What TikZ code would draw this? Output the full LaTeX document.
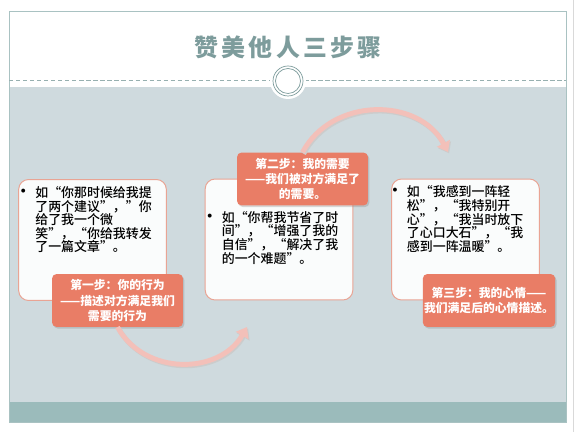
\documentclass[tikz,border=0pt]{standalone}
\usepackage{fontspec}
\usepackage{xcolor}
\usepackage{tikz}
\usetikzlibrary{arrows.meta,positioning,shadows}
\newfontfamily\cjk{Noto Sans CJK SC}
\newfontfamily\cjkmid{Noto Sans CJK SC Medium}
\newfontfamily\cjktitle[LetterSpace=14]{Noto Sans CJK SC}
\definecolor{bandgray}{HTML}{CFDADE}
\definecolor{bandteal}{HTML}{9BBBBB}
\definecolor{framecol}{HTML}{A9C2C2}
\definecolor{titlecol}{HTML}{7D9C9C}
\definecolor{stepred}{HTML}{E97D66}
\definecolor{boxline}{HTML}{E9A494}
\definecolor{boxfill}{HTML}{FAFCFC}
\definecolor{arrowpink}{HTML}{F3C0B9}
\newcommand{\dotmark}{\llap{{\fontsize{12}{12}\selectfont •}\hspace{2.5pt}}}

\begin{document}
\begin{tikzpicture}[
    x=0.025cm, y=0.025cm,
    every node/.style={font=\cjk, inner sep=0pt},
    notebox/.style={rectangle, rounded corners=7pt, draw=boxline, line width=0.7pt, fill=boxfill, minimum width=105pt, minimum height=86pt},
    notetext/.style={align=left, font=\cjkmid\fontsize{9.2}{9.7}\selectfont},
    stepbox/.style={rectangle, rounded corners=3pt, fill=stepred, text=white, align=center, minimum width=93pt, minimum height=37.5pt, font=\cjk\bfseries\fontsize{8.4}{10.7}\selectfont, drop shadow={shadow xshift=1pt, shadow yshift=-1.2pt, opacity=0.3}},
    bendarrow/.style={draw=arrowpink, line width=3.5pt, -{Triangle[length=7pt,width=10pt]}},
    bendshadow/.style={draw=black!20, line width=3.5pt, -{Triangle[length=7pt,width=10pt]}}
]
\useasboundingbox (0,0) rectangle (577,432);
\fill[white] (0,0) rectangle (577,432);
\draw[black!15] (573,0) -- (573,432);
\fill[bandgray] (9,30) rectangle (566,345);
\fill[bandteal] (9,10) rectangle (566,30);
\draw[framecol, line width=0.6pt] (9,10) rectangle (566,421);
\draw[titlecol!80, densely dashed, line width=0.4pt] (9,352) -- (566,352);
\node[circle, fill=white, minimum size=25.6pt] (knob) at (288,351) {};
\draw[titlecol, line width=0.5pt] (knob.center) circle[radius=15];
\draw[titlecol, line width=0.5pt] (knob.center) circle[radius=12.5];
\node[text=titlecol, font=\cjktitle\bfseries\fontsize{17}{17}\selectfont] (title) at (288,385) {赞美他人三步骤};

\node[notebox] (box1) at (92.5,192) {};
\node[notebox] (box2) at (279,192.5) {};
\node[notebox] (box3) at (465.5,192.5) {};
\node[notetext, below right=5pt and 12pt of box1.north west] (text1) {\dotmark 如“你那时候给我提\\了两个建议”，”你\\给了我一个微\\笑”，“你给我转发\\了一篇文章”。};
\node[notetext, below right=23pt and 12pt of box2.north west] (text2) {\dotmark 如“你帮我节省了时\\间”，“增强了我的\\自信”，“解决了我\\的一个难题”。};
\node[notetext, below right=5pt and 11pt of box3.north west] (text3) {\dotmark 如“我感到一阵轻\\松”，“我特别开\\心”，“我当时放下\\了心口大石”，“我\\感到一阵温暖”。};

\node[stepbox] (step1) at (117.5,131.5) {第一步：你的行为\\——描述对方满足我们\\需要的行为};
\node[stepbox] (step2) at (302.5,253) {第二步：我的需要\\——我们被对方满足了\\的需要。};
\node[stepbox, minimum width=94pt] (step3) at (489,131.5) {第三步：我的心情——\\我们满足后的心情描述。};

\coordinate (a1end) at (247,105);
\coordinate (a2end) at (448,280);
\draw[bendshadow, transform canvas={xshift=0.8pt, yshift=-1pt}] (step1.south) to[out=-61, in=240, looseness=1.1] (a1end);
\draw[bendarrow] (step1.south) to[out=-61, in=240, looseness=1.1] (a1end);
\draw[bendshadow, transform canvas={xshift=0.8pt, yshift=-1pt}] (step2.north) to[out=62, in=118, looseness=1.1] (a2end);
\draw[bendarrow] (step2.north) to[out=62, in=118, looseness=1.1] (a2end);
\end{tikzpicture}
\end{document}
